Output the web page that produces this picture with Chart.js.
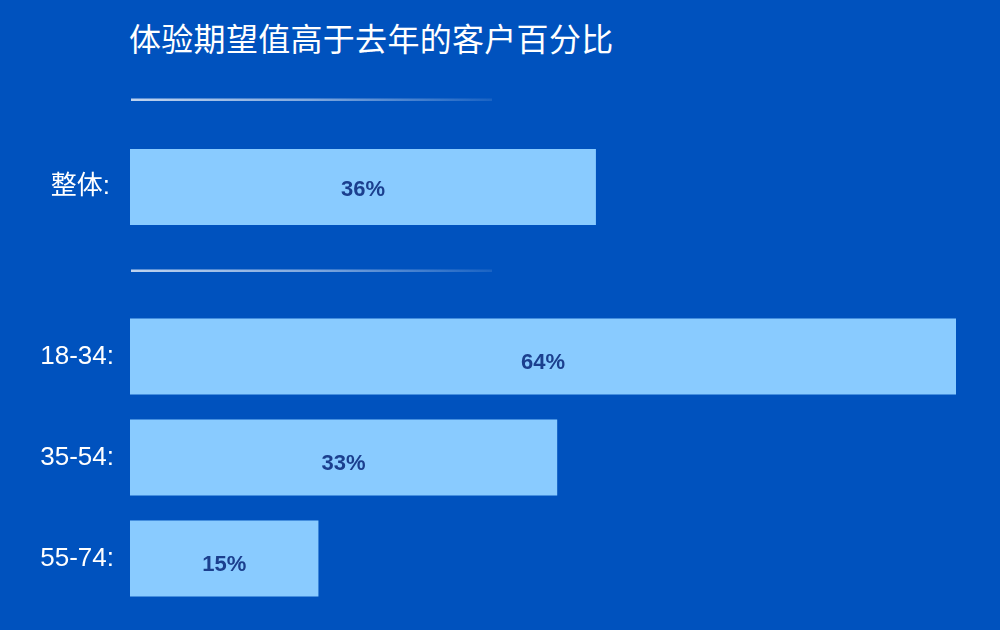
<!DOCTYPE html>
<html>
<head>
<meta charset="utf-8">
<script src="https://cdn.jsdelivr.net/npm/chart.js@4.4.1/dist/chart.umd.min.js"></script>
<style>
  html, body { margin: 0; padding: 0; background: #0052BE; width: 1000px; height: 630px; overflow: hidden; }
  #title { position: absolute; left: 129px; top: 15px; color: #fff; font: 400 32px 'Noto Sans CJK SC', sans-serif; line-height: 44px; white-space: nowrap; letter-spacing: 0.3px; }
  canvas { position: absolute; left: 0; top: 0; }
</style>
</head>
<body>
<div id="title">体验期望值高于去年的客户百分比</div>
<canvas id="c1" width="1000" height="630"></canvas>
<canvas id="c2" width="1000" height="700"></canvas>
<script>
const titleText = '体验期望值高于去年的客户百分比';
const overallLabels = ['整体:'];
const overallValues = [36.1];
const overallText = ['36%'];
const ageLabels = ['18-34:', '35-54:', '55-74:'];
const ageValues = [64, 33.1, 14.6];
const ageText = ['64%', '33%', '15%'];
const xMax = 64;

const FONT = "'Liberation Sans', 'Noto Sans CJK SC', Arial, sans-serif";
const BAR = '#89CBFF';
const LABEL = '#1B3F8E';

const valueLabels = {
  id: 'valueLabels',
  afterDatasetsDraw(chart) {
    const ctx = chart.ctx;
    const opts = chart.options.plugins.valueLabels;
    const meta = chart.getDatasetMeta(0);
    ctx.save();
    ctx.fillStyle = LABEL;
    ctx.font = "bold 22px " + FONT;
    ctx.textAlign = 'center';
    ctx.textBaseline = 'middle';
    meta.data.forEach((bar, i) => {
      const cx = (bar.base + bar.x) / 2;
      ctx.fillText(opts.texts[i], cx, bar.y + opts.dy);
    });
    ctx.restore();
  }
};

const dividers = {
  id: 'dividers',
  beforeDraw(chart) {
    const ys = chart.options.plugins.dividers.ys;
    if (!ys) return;
    const ctx = chart.ctx;
    ctx.save();
    ys.forEach(y => {
      const g = ctx.createLinearGradient(131, 0, 492, 0);
      g.addColorStop(0, 'rgba(255,255,255,0.75)');
      g.addColorStop(0.5, 'rgba(255,255,255,0.5)');
      g.addColorStop(1, 'rgba(255,255,255,0.1)');
      ctx.fillStyle = g;
      ctx.fillRect(131, y - 1, 361, 2.5);
    });
    ctx.restore();
  }
};

function makeChart(id, labels, values, texts, top, bottom, padX, ys, dy) {
  return new Chart(document.getElementById(id), {
    type: 'bar',
    data: {
      labels: labels,
      datasets: [{
        data: values,
        backgroundColor: BAR,
        borderWidth: 0,
        categoryPercentage: 1,
        barPercentage: 0.752
      }]
    },
    options: {
      indexAxis: 'y',
      responsive: false,
      animation: false,
      events: [],
      layout: { padding: { top: top, bottom: bottom, left: 0, right: 44 } },
      scales: {
        x: { display: false, min: 0, max: xMax },
        y: {
          grid: { display: false, drawTicks: false },
          border: { display: false },
          ticks: { color: '#ffffff', font: { family: FONT, size: 26 }, padding: padX },
          afterFit(scale) { scale.width = 130; scale.paddingTop = 0; scale.paddingBottom = 0; }
        }
      },
      plugins: {
        legend: { display: false },
        tooltip: { enabled: false },
        title: { display: false },
        valueLabels: { texts: texts, dy: dy },
        dividers: { ys: ys }
      }
    },
    plugins: [valueLabels, dividers]
  });
}

makeChart('c1', overallLabels, overallValues, overallText, 136.5, 392.5, 20, [99.5, 270.5], 3);
makeChart('c2', ageLabels, ageValues, ageText, 306, 91, 16, null, 6);
</script>
</body>
</html>
